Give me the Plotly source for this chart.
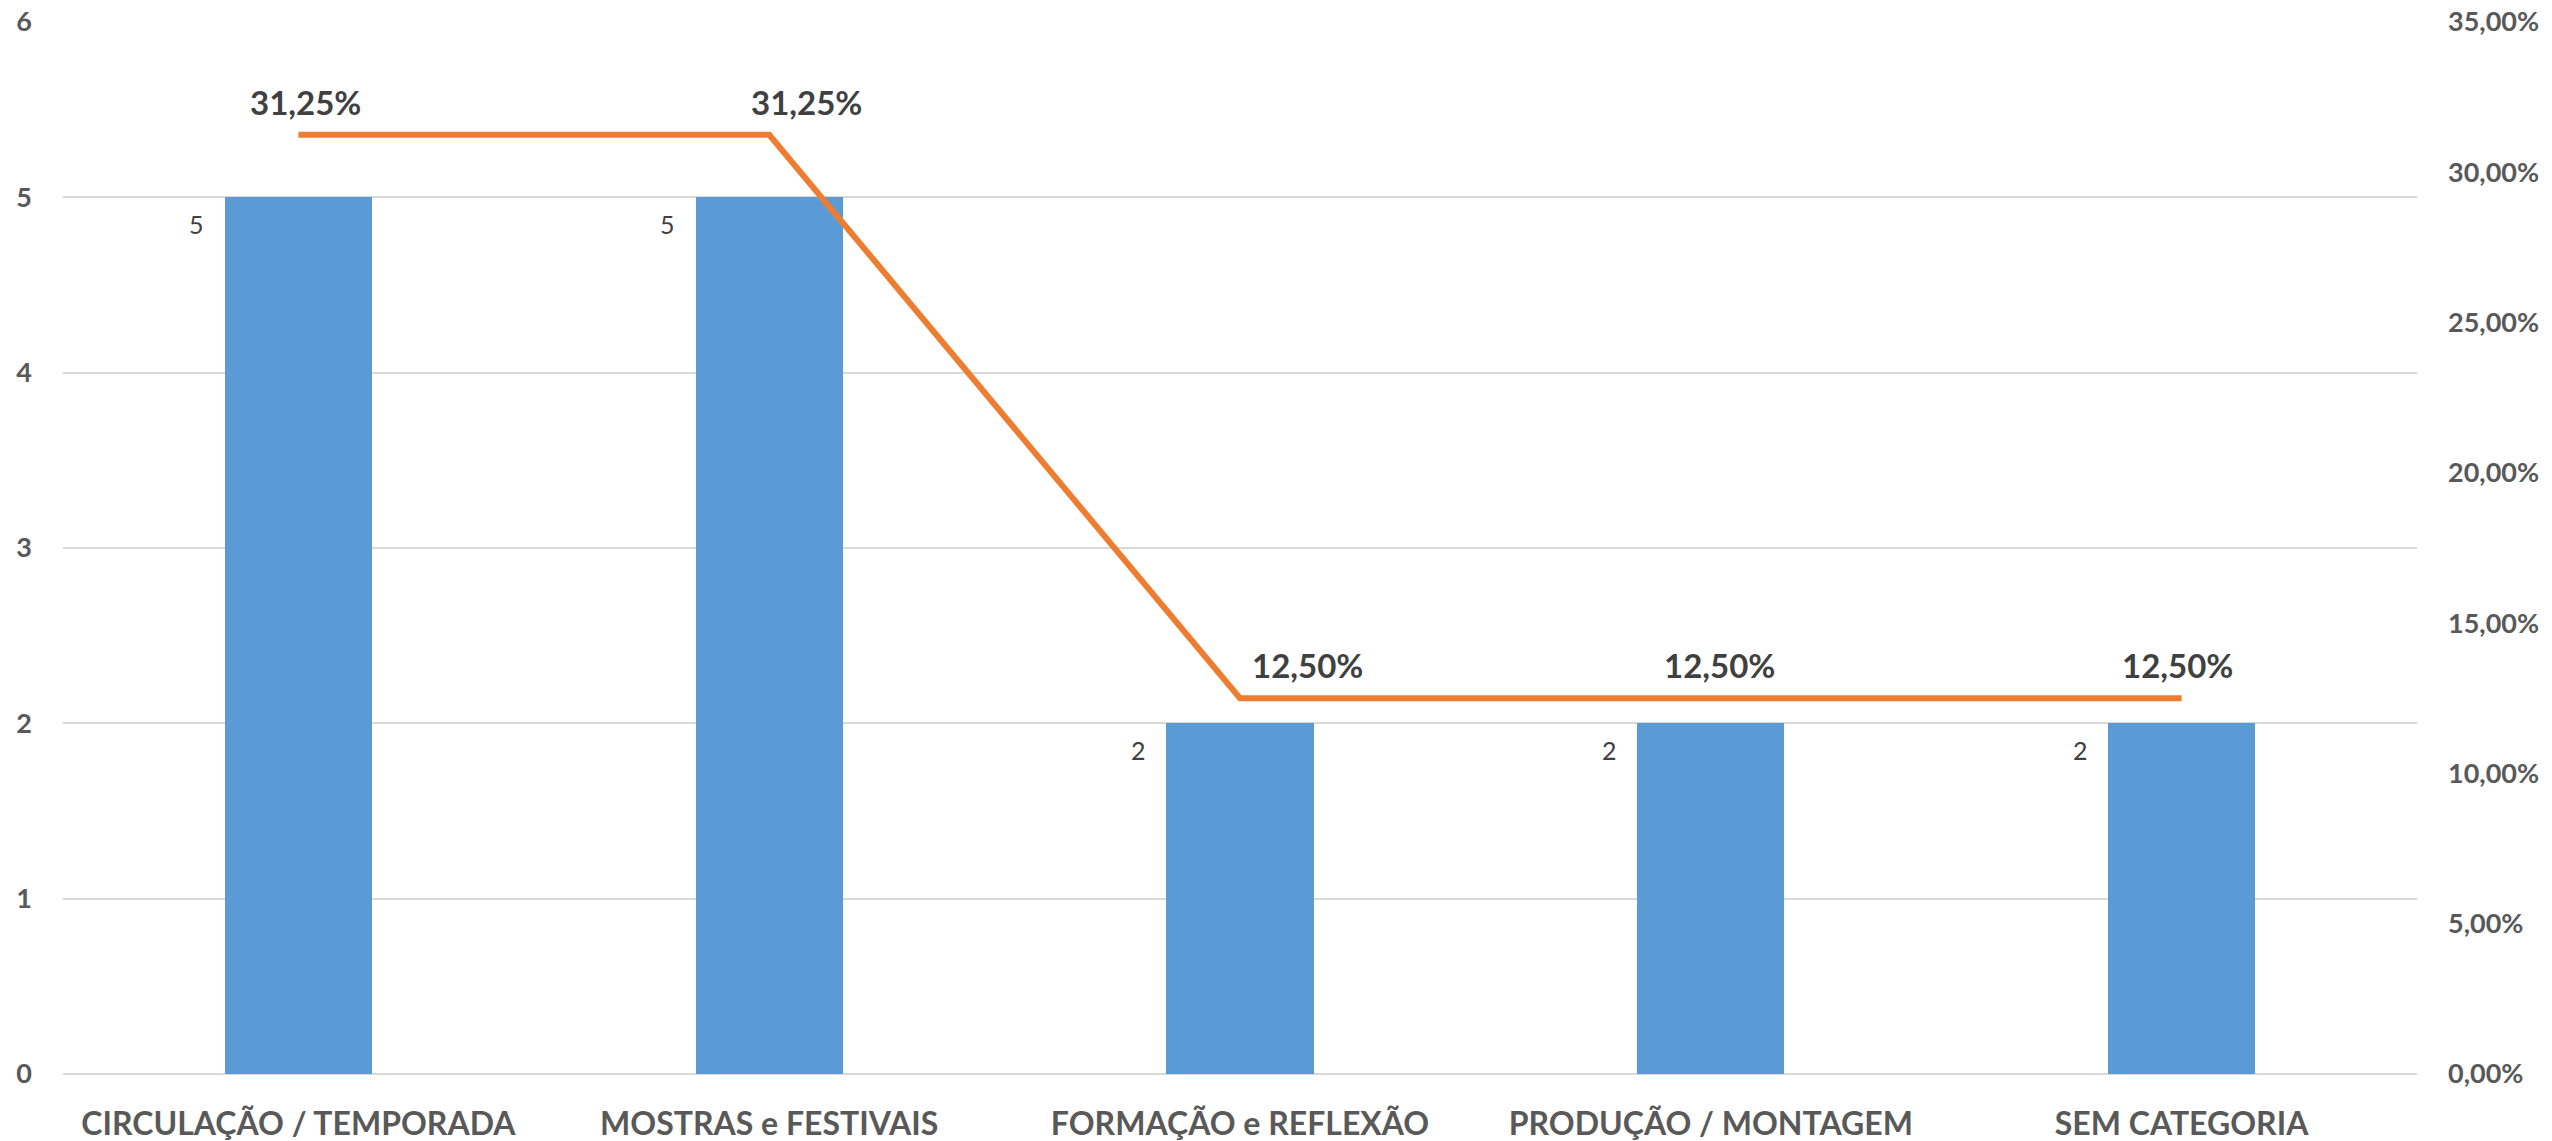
import plotly.graph_objects as go

categories = ["CIRCULAÇÃO / TEMPORADA", "MOSTRAS e FESTIVAIS", "FORMAÇÃO e REFLEXÃO",
              "PRODUÇÃO / MONTAGEM", "SEM CATEGORIA"]
counts = [5, 5, 2, 2, 2]
shares = [0.3125, 0.3125, 0.125, 0.125, 0.125]

# label placement offsets (styling only)
pct_xshift = [7, 37, 67, 9, -4]

FONT = "Lato"
fig = go.Figure()
fig.add_trace(go.Bar(x=categories, y=counts, marker=dict(color="#5B9BD5", line=dict(width=0)),
                     width=0.3125, name="Quantidade", yaxis="y"))
fig.add_trace(go.Scatter(x=categories, y=shares, mode="lines", line=dict(color="#ED7D31", width=6),
                         name="%", yaxis="y2"))

ann = []
for c, v in zip(categories, counts):
    ann.append(dict(x=c, y=v, xref="x", yref="y", text=str(v), showarrow=False,
                    xanchor="right", yanchor="middle", xshift=-92, yshift=-27,
                    font=dict(family=FONT, size=25, color="#404040")))
for c, s, dx in zip(categories, shares, pct_xshift):
    ann.append(dict(x=c, y=s, xref="x", yref="y2", text=f"<b>{s*100:.2f}%</b>".replace(".", ","),
                    showarrow=False, xanchor="center", yanchor="middle", xshift=dx, yshift=33,
                    font=dict(family=FONT, size=33, color="#404040")))

fig.update_layout(
    width=2552, height=1141,
    margin=dict(l=63, r=135, t=22, b=67, autoexpand=False),
    paper_bgcolor="white", plot_bgcolor="white",
    separators=",.",
    showlegend=False,
    bargap=0,
    annotations=ann,
    xaxis=dict(showgrid=False, showline=False, zeroline=False, ticks="",
               tickfont=dict(family=FONT, size=32, color="#595959", weight="bold"),
               ticklabelstandoff=28, automargin=False),
    yaxis=dict(range=[0, 6], dtick=1, showgrid=True, gridcolor="#D9D9D9", gridwidth=2,
               zeroline=True, zerolinecolor="#D9D9D9", zerolinewidth=2, showline=False,
               tickfont=dict(family=FONT, size=27, color="#595959", weight="bold"),
               ticklabelstandoff=30, automargin=False),
    yaxis2=dict(range=[0, 0.35], dtick=0.05, tickformat=".2%", overlaying="y", side="right",
                showgrid=False, zeroline=False, showline=False,
                tickfont=dict(family=FONT, size=27, color="#595959", weight="bold"),
                ticklabelstandoff=30, automargin=False),
)
fig.write_html("out.html", config={"displayModeBar": False},
               post_script="document.body.style.margin='0';document.body.style.overflow='hidden';")
